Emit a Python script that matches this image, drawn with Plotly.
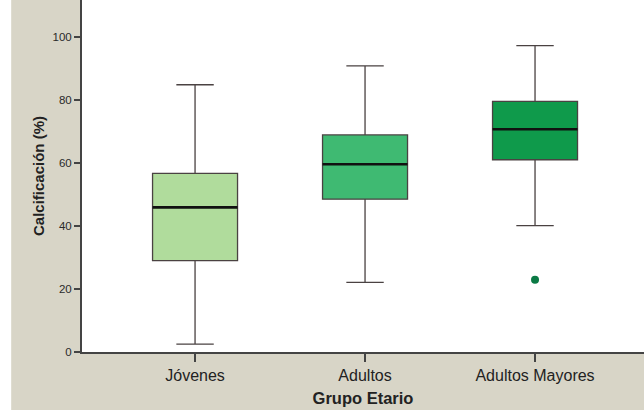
import plotly.graph_objects as go

categories = ["Jóvenes", "Adultos", "Adultos Mayores"]
q1_vals = [29.0, 48.5, 61.0]
median_vals = [45.9, 59.6, 70.7]
q3_vals = [56.7, 68.9, 79.5]
lower_vals = [2.5, 22.1, 40.1]
upper_vals = [84.8, 90.8, 97.2]
outlier_cat = ["Adultos Mayores"]
outlier_vals = [22.9]
box_colors = ["#b0dc9c", "#3fba72", "#0f9a4b"]

fig = go.Figure()
for i, c in enumerate(categories):
    fig.add_trace(go.Box(
        x=[c], q1=[q1_vals[i]], median=[median_vals[i]], q3=[q3_vals[i]],
        lowerfence=[lower_vals[i]], upperfence=[upper_vals[i]],
        fillcolor=box_colors[i], line=dict(color="#4a4242", width=1.3),
        width=0.5, whiskerwidth=0.44, boxpoints=False, showlegend=False,
        hoverinfo="skip"))
    # thick median overlay
    fig.add_trace(go.Box(
        x=[c], q1=[median_vals[i]], median=[median_vals[i]], q3=[median_vals[i]],
        lowerfence=[median_vals[i]], upperfence=[median_vals[i]],
        fillcolor="rgba(0,0,0,0)", line=dict(color="#111111", width=2.6),
        width=0.5, whiskerwidth=0, boxpoints=False, showlegend=False,
        hoverinfo="skip"))

fig.add_trace(go.Scatter(x=outlier_cat, y=outlier_vals, mode="markers",
                         marker=dict(color="#0b7a45", size=8),
                         showlegend=False, hoverinfo="skip"))

fig.update_layout(
    width=644, height=410,
    margin=dict(l=82, r=0, t=0, b=58),
    paper_bgcolor="#d8d5c7", plot_bgcolor="#ffffff",
    boxmode="overlay",
    font=dict(family="Liberation Sans, Arial, sans-serif", color="#222222"),
    xaxis=dict(
        type="category", range=[-0.665, 2.641],
        showline=True, linecolor="#444444", linewidth=2,
        ticks="outside", ticklen=8, tickwidth=1.5, tickcolor="#444444",
        tickfont=dict(size=16, color="#222222"), showgrid=False,
        title=dict(text="<b>Grupo Etario</b>", font=dict(size=16.5), standoff=9),
        zeroline=False),
    yaxis=dict(
        range=[0, 111.7], tickvals=[0, 20, 40, 60, 80, 100],
        showline=True, linecolor="#444444", linewidth=2,
        ticks="outside", ticklen=6, tickwidth=1.5, tickcolor="#444444",
        tickfont=dict(size=11.5, color="#2a2a2a"), showgrid=False,
        title=dict(text="<b>Calcificación (%)</b>", font=dict(size=15), standoff=4),
        zeroline=False),
    shapes=[dict(type="rect", xref="paper", yref="paper",
                 x0=-0.146, x1=-0.126, y0=-0.3, y1=1.2,
                 fillcolor="#ffffff", line=dict(width=0), layer="below")],
)

fig.write_html("out.html", config={"displayModeBar": False},
               post_script="document.body.style.margin='0';document.body.style.padding='0';")
